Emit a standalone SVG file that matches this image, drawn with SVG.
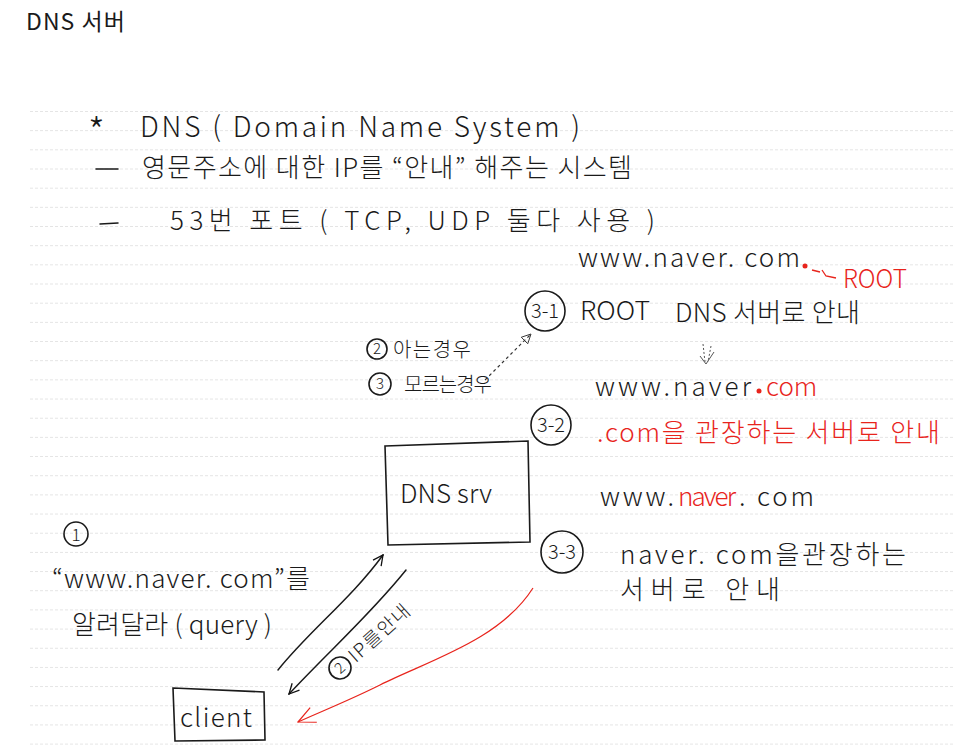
<svg xmlns="http://www.w3.org/2000/svg" width="970" height="753" viewBox="0 0 970 753">
<defs>
  <pattern id="rule" x="0" y="111" width="970" height="19.17" patternUnits="userSpaceOnUse">
    <line x1="0" y1="0.5" x2="970" y2="0.5" stroke="#e4e4e4" stroke-width="1" stroke-dasharray="3 2"/>
  </pattern>
  <marker id="open" viewBox="0 0 12 12" refX="11" refY="6" markerWidth="12" markerHeight="12" markerUnits="userSpaceOnUse" orient="auto">
    <path d="M1 1 L11 6 L1 11" fill="none" stroke="#111" stroke-width="1.3"/>
  </marker>
  <marker id="openRed" viewBox="0 0 20 20" refX="19" refY="10" markerWidth="20" markerHeight="20" markerUnits="userSpaceOnUse" orient="auto">
    <path d="M2 2 L19 10 L2 18" fill="none" stroke="#e8241c" stroke-width="1.2"/>
  </marker>
  <marker id="tri" viewBox="0 0 12 12" refX="11" refY="6" markerWidth="11" markerHeight="11" markerUnits="userSpaceOnUse" orient="auto">
    <path d="M1 1 L11 6 L1 11 Z" fill="none" stroke="#333" stroke-width="1"/>
  </marker>
</defs>
<style>
  text { font-family: "Noto Sans CJK KR", "Noto Sans", sans-serif; fill: #1a1a1a; }
  .hw { font-weight: 300; font-size: 26px; }
  .sm { font-size: 20px; }
  .red { fill: #e8241c; }
  .title { font-size: 23px; font-weight: 400; }
  .box { fill: none; stroke: #1a1a1a; stroke-width: 1.6; }
  .circ { fill: none; stroke: #1a1a1a; stroke-width: 1.6; }
  .ln { fill: none; stroke: #1a1a1a; stroke-width: 1.5; stroke-linecap: round; }
  .num { font-size: 20px; font-weight: 300; text-anchor: middle; }
  .numsm { font-size: 15px; }
</style>
<rect width="970" height="753" fill="#ffffff"/>
<rect x="28" y="111" width="925" height="635" fill="url(#rule)"/>

<text class="title" x="26" y="30" textLength="99" lengthAdjust="spacing">DNS 서버</text>

<g id="header">
  <text class="hw" x="88" y="146" style="font-size:38px">*</text>
  <text class="hw" x="140" y="137" style="font-size:28px" textLength="440" lengthAdjust="spacing">DNS ( Domain Name System )</text>
  <line class="ln" x1="96" y1="169" x2="118" y2="169"/>
  <text class="hw" x="142" y="177" textLength="490" lengthAdjust="spacing">영문주소에 대한 IP를 “안내” 해주는 시스템</text>
  <line class="ln" x1="100" y1="224" x2="118" y2="223"/>
  <text class="hw" x="170" y="230" textLength="485" lengthAdjust="spacing">53번 포트 ( TCP, UDP 둘다 사용 )</text>
</g>

<g id="root-note">
  <text class="hw" x="578" y="267" textLength="222" lengthAdjust="spacing">www.naver. com</text>
  <circle cx="805" cy="266" r="2.5" fill="#e8241c"/>
  <path d="M812 270 L820 272 M822 270 L826 276 L836 278" fill="none" stroke="#e8241c" stroke-width="1.3"/>
  <text class="hw red" x="843" y="288" textLength="64" lengthAdjust="spacingAndGlyphs">ROOT</text>
</g>

<g id="step-3-1">
  <circle class="circ" cx="545" cy="311" r="20"/>
  <text class="num" x="545" y="318">3-1</text>
  <text class="hw" x="580" y="320" textLength="70" lengthAdjust="spacingAndGlyphs">ROOT</text>
  <text class="hw" x="675" y="322" textLength="185" lengthAdjust="spacing">DNS 서버로 안내</text>
</g>

<g id="step-3-1-domain">
  <text class="hw" x="595" y="396" textLength="156" lengthAdjust="spacing">www.naver</text>
  <circle cx="759" cy="391" r="2.5" fill="#e8241c"/>
  <text class="hw red" x="766" y="396">com</text>
</g>

<g id="step-3-2">
  <circle class="circ" cx="551" cy="425" r="20"/>
  <text class="num" x="551" y="432">3-2</text>
  <text class="hw red" x="597" y="442" textLength="343" lengthAdjust="spacing">.com을 관장하는 서버로 안내</text>
</g>

<g id="step-3-2-domain">
  <text class="hw" x="600" y="506" textLength="74" lengthAdjust="spacing">www.</text>
  <text class="hw red" x="678" y="506" textLength="58" lengthAdjust="spacing">naver</text>
  <text class="hw" x="739" y="506" textLength="75" lengthAdjust="spacing">. com</text>
</g>

<g id="step-3-3">
  <circle class="circ" cx="562" cy="552" r="21"/>
  <text class="num" x="562" y="559">3-3</text>
  <text class="hw" x="620" y="564" textLength="286" lengthAdjust="spacing">naver. com을관장하는</text>
  <text class="hw" x="620" y="599" textLength="160" lengthAdjust="spacing">서버로 안내</text>
</g>

<g id="cases">
  <circle class="circ" cx="377" cy="349" r="10" stroke-width="1.3"/>
  <text class="num numsm" x="377" y="354">2</text>
  <text class="hw sm" x="393" y="357" textLength="78" lengthAdjust="spacing">아는경우</text>
  <circle class="circ" cx="380" cy="384" r="11" stroke-width="1.3"/>
  <text class="num numsm" x="380" y="389">3</text>
  <text class="hw sm" x="404" y="392" textLength="88" lengthAdjust="spacing">모르는경우</text>
</g>

<g id="dns-srv">
  <path class="box" d="M385 446 L528 441 L530 542 L388 545 Z"/>
  <text class="hw" x="400" y="503" textLength="92" lengthAdjust="spacing">DNS srv</text>
</g>

<g id="query-note">
  <circle class="circ" cx="76" cy="534" r="12" stroke-width="1.3"/>
  <text class="num" x="76" y="541" style="font-size:17px">1</text>
  <text class="hw" x="52" y="588" textLength="258" lengthAdjust="spacing">“www.naver. com”를</text>
  <text class="hw" x="72" y="634" textLength="200" lengthAdjust="spacing">알려달라 ( query )</text>
</g>

<g id="client">
  <path class="box" d="M173 688 L264 692 L265 740 L175 741 Z"/>
  <text class="hw" x="180" y="727" textLength="72" lengthAdjust="spacing">client</text>
</g>

<g id="ip-label" transform="translate(340 668) rotate(-42)">
  <circle class="circ" cx="0" cy="0" r="11" stroke-width="1.3"/>
  <text class="num numsm" x="0" y="5">2</text>
  <text class="hw" x="15" y="7" style="font-size:19px" textLength="75" lengthAdjust="spacing">IP를안내</text>
</g>

<g id="connectors">
  <path class="ln" d="M278 670 C310 630, 350 600, 383 555" marker-end="url(#open)"/>
  <path class="ln" d="M406 570 C370 615, 330 650, 289 694" marker-end="url(#open)"/>
  <path d="M485 380 L531 334" fill="none" stroke="#333" stroke-width="1.2" stroke-dasharray="3 3" marker-end="url(#tri)"/>
  <path d="M703 344 L705 362 M711 346 L708 362" fill="none" stroke="#555" stroke-width="1" stroke-dasharray="2 2"/>
  <path d="M700 356 L706 364 L714 352" fill="none" stroke="#555" stroke-width="1"/>
  <path d="M533 588 C500 640, 430 660, 380 685 C350 700, 320 712, 298 722" fill="none" stroke="#e8241c" stroke-width="1.2" marker-end="url(#openRed)"/>
</g>
</svg>
